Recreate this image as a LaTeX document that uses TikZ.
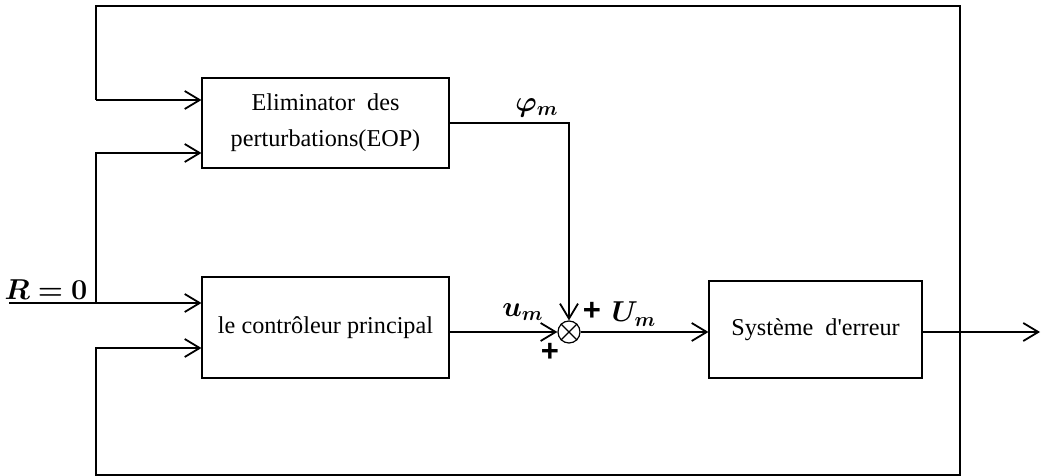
\documentclass[tikz,border=0pt]{standalone}
\usepackage{fontspec}
\setmainfont{Liberation Serif}
\newfontfamily\plusfont{Liberation Sans}
\usepackage{amsmath,bm}
\usetikzlibrary{positioning,arrows.meta}

\begin{document}
\begin{tikzpicture}[
    x=0.5pt, y=-0.5pt,
    box/.style={draw, line width=0.55pt, align=center, inner sep=0pt,
                font=\fontsize{12.1}{18}\selectfont},
    arr/.style={-{Straight Barb[length=7.5pt,width=9pt]}, line width=0.9pt},
    lbl/.style={font=\fontsize{14}{16}\selectfont, inner sep=0pt},
    sgn/.style={font=\plusfont\bfseries\fontsize{15.5}{17}\selectfont, inner sep=0pt},
    junction/.style={draw, circle, line width=0.6pt, minimum size=11pt, inner sep=0pt}
]
  \useasboundingbox (0,0) rectangle (1041,476);

  \node[box, minimum width=123.5pt, minimum height=45pt] (eop) at (325.5,123)
    {Eliminator\ \ des\\perturbations(EOP)};
  \node[box, minimum width=123.5pt, minimum height=50.5pt] (ctrl) at (325.5,327.5)
    {le contrôleur principal};
  \node[box, minimum width=106.5pt, minimum height=48.5pt] (sys) at (815.5,329.5)
    {Système\ \ d\textquotesingle erreur};
  \node[junction] (sum) at (569,332) {};
  \draw[line width=0.6pt] (sum.north west) -- (sum.south east)
                          (sum.north east) -- (sum.south west);

  \coordinate (rin) at (9,303);
  \coordinate (rsplit) at (96,303);
  \coordinate (rup) at (96,153);
  \coordinate (fbA) at (96,100);
  \coordinate (fbB) at (960,6);
  \coordinate (fbC) at (96,475);
  \coordinate (fbD) at (96,348);
  \coordinate (out) at (1040,332);

  % reference input
  \draw[arr] (rin) -- (ctrl.west |- rin);
  \draw[arr] (rsplit) -- (rup) -- (eop.west |- rup);
  % feedback loop
  \draw[arr] (fbA) -- (eop.west |- fbA);
  \draw[arr] (fbA) |- (fbB) |- (fbC) -- (fbD) -- (ctrl.west |- fbD);
  % forward path
  \draw[arr] (eop.east) -| (sum.north);
  \draw[arr] (ctrl.east |- sum) -- (sum.west);
  \draw[arr] (sum.east) -- (sys.west |- sum);
  \draw[arr] (sys.east |- sum) -- (out);

  \node[lbl] (rlbl) at (46,290) {$\bm{R=0}$};
  \node[lbl] (phim) at (537,108) {$\bm{\varphi_m}$};
  \node[lbl] (um) at (523,312) {$\bm{u_m}$};
  \node[lbl] (Um) at (634,314) {$\bm{U_m}$};
  \node[sgn] (plusA) at (592,311) {+};
  \node[sgn] (plusB) at (550,352) {+};
\end{tikzpicture}
\end{document}
